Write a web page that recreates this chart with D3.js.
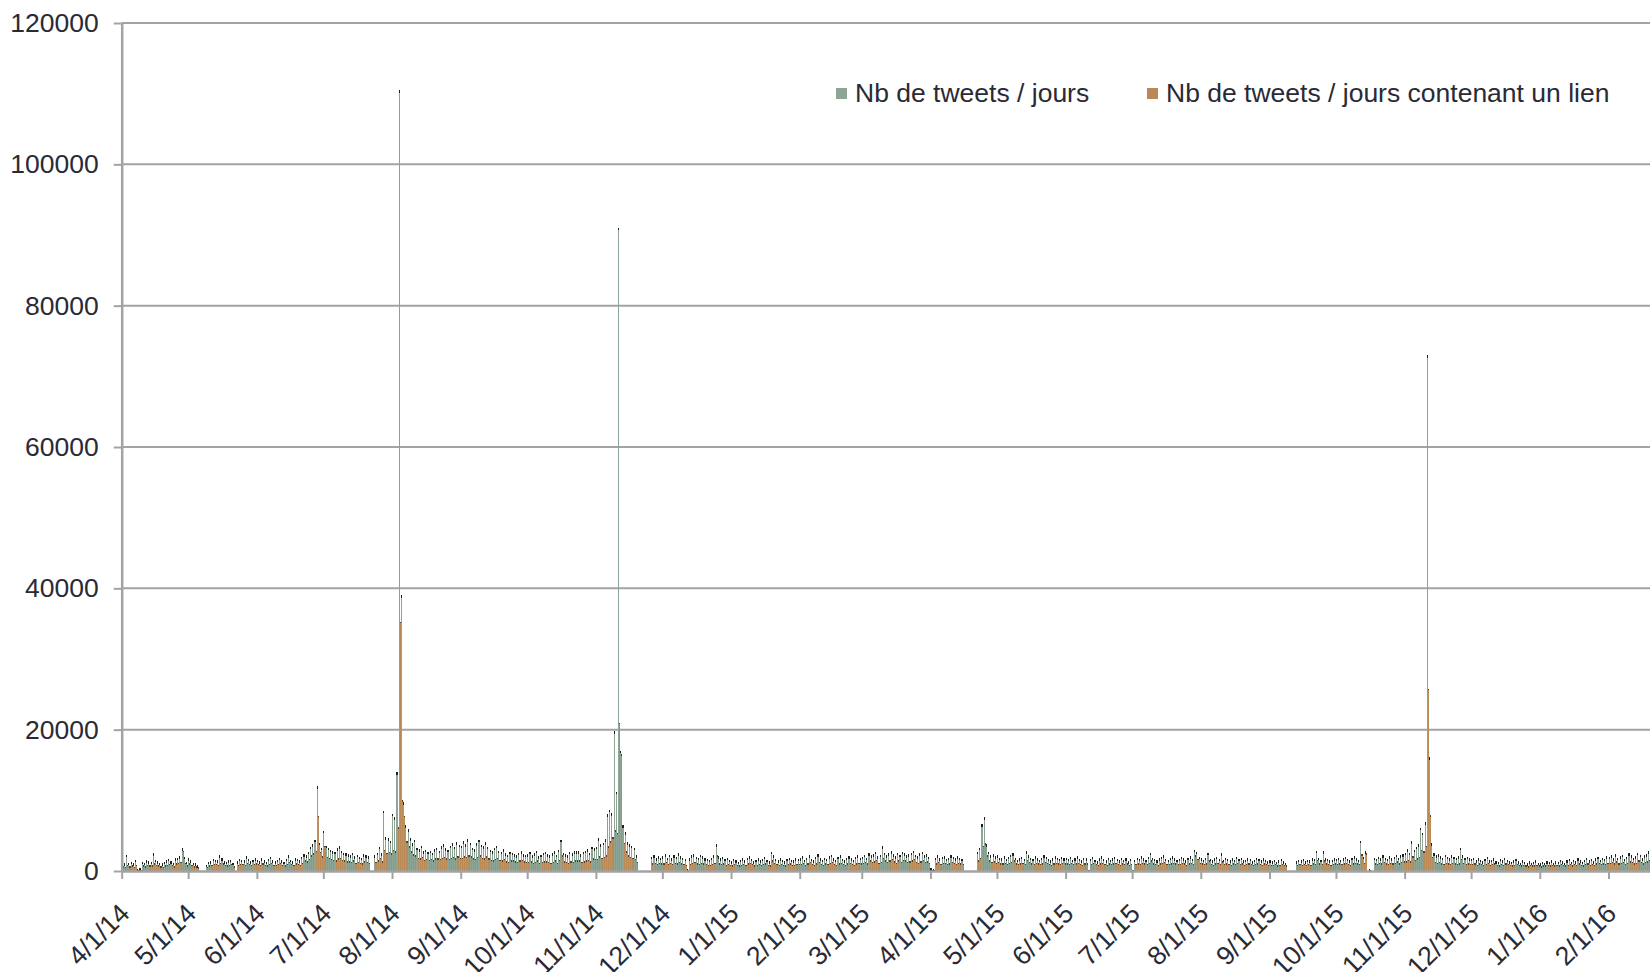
<!DOCTYPE html>
<html>
<head>
<meta charset="utf-8">
<script src="https://cdn.jsdelivr.net/npm/d3@7"></script>
<style>
  body { margin: 0; background: #fff; }
  svg { display: block; font-family: "Liberation Sans", Arial, sans-serif; }
</style>
</head>
<body>
<svg id="chart"></svg>
<script>
// daily counts, in hundreds of tweets, one line per month. null = no data that day
const startDate = new Date(2014, 3, 1);

const total = [
  /* avr 14 */ 12,11,23,12,13,11,16,3,4,13, 12,15,14,13,25,16,14,12,11,13, 15,17,14,12,18,19,21,32,20,13,
  /* mai 14 */ 18,15,12,11,8,null,null,null,9,13, 14,17,16,15,22,18,14,13,15,16, 12,null,14,17,16,15,21,17,14,16, 18,
  /* jun 14 */ 16,14,18,15,13,17,20,15,14,16, 19,15,13,17,22,16,14,18,17,15, 20,24,22,27,34,38,44,120,40,33,
  /* jul 14 */ 57,36,33,30,28,27,32,35,29,26, 25,24,22,26,21,23,20,19,24,22, 21,null,null,22,26,34,25,85,48,46, 43,
  /* aou 14 */ 81,76,140,1105,390,97,65,59,46,39, 44,33,31,36,28,30,27,29,26,31, 33,29,35,38,32,30,36,39,34,41, 37,
  /* sep 14 */ 36,42,38,45,40,33,31,39,44,37, 35,41,34,30,28,33,36,29,27,31, 25,23,27,26,24,22,26,28,24,23,
  /* oct 14 */ 24,27,22,25,29,21,23,26,27,24, 22,25,28,23,30,44,26,24,22,27, 25,28,28,28,24,27,29,31,26,34, 32,
  /* nov 14 */ 34,46,38,40,45,80,87,82,198,112, 910,170,65,55,41,38,36,33,22,null, null,null,null,null,null,20,22,18,21,19,
  /* dec 14 */ 21,24,19,23,18,22,20,25,21,19, 17,3,18,22,24,20,19,23,21,18, 17,16,19,22,38,21,18,20,17,19, 16,
  /* jan 15 */ 14,17,15,13,16,18,15,19,21,17, 14,16,18,15,17,20,16,14,27,22, 17,15,18,16,14,17,19,16,15,18, 17,
  /* fev 15 */ 18,21,16,19,22,17,15,20,24,18, 16,19,17,21,23,18,16,20,22,17, 15,19,21,18,16,20,22,19,
  /* mar 15 */ 20,23,19,25,22,24,27,21,23,35, 26,22,25,28,24,21,26,23,27,25, 22,24,26,29,23,21,25,27,22,24, 20,
  /* avr 15 */ 4,3,19,22,18,20,21,17,19,22, 20,18,21,19,17,null,null,null,null,null, null,27,33,66,76,38,27,22,24,21,
  /* mai 15 */ 22,19,18,21,17,20,23,25,19,16, 18,20,17,28,22,19,17,21,18,16, 19,22,20,17,15,18,21,19,17,20, 18,
  /* jun 15 */ 19,17,20,16,18,21,17,15,19,18, 2,17,20,16,14,18,21,17,15,19, 16,18,20,17,15,19,16,18,14,17,
  /* jul 15 */ 2,16,19,17,21,18,16,20,26,19, 17,15,18,20,22,17,16,19,21,18, 16,17,20,18,15,19,21,17,30,27, 20,
  /* aou 15 */ 18,16,19,26,17,15,18,20,17,25, 16,19,17,15,18,16,20,17,19,15, 16,18,17,14,16,19,17,15,18,16, 14,
  /* sep 15 */ 15,14,16,13,15,17,14,12,null,null, null,null,14,16,15,17,14,16,15,18, 17,29,19,16,28,18,17,15,16,18,
  /* oct 15 */ 17,19,16,18,20,17,15,19,21,18, 16,43,20,28,null,3,null,19,17,20, 18,22,19,17,21,18,20,23,19,22, 24,
  /* nov 15 */ 26,31,26,42,30,34,38,61,54,69, 730,161,39,25,22,24,21,19,23,20, 18,22,20,19,21,33,22,19,20,18,
  /* dec 15 */ 17,19,15,18,16,14,17,20,15,16, 18,14,13,17,15,19,16,14,13,15, 17,14,12,15,13,11,14,12,13,15, 12,
  /* jan 16 */ 11,13,12,14,13,15,12,14,13,16, 14,12,15,17,13,16,14,18,15,13, 16,19,15,17,14,18,20,16,19,17, 21,
  /* fev 16 */ 20,22,18,24,19,21,23,17,20,25, 22,19,21,26,23,18,22,24,28,32
];

const withLink = [
  /* avr 14 */ 7,6,9,7,8,6,9,2,2,8, 7,9,8,8,11,9,8,7,6,8, 9,10,9,7,11,12,13,29,12,8,
  /* mai 14 */ 11,9,7,7,5,null,null,null,6,8, 9,10,10,9,12,11,9,8,9,10, 7,null,9,10,10,9,12,10,9,10, 11,
  /* jun 14 */ 10,9,11,9,8,10,12,9,9,10, 12,9,8,10,13,10,9,11,10,9, 12,15,14,17,22,25,29,78,27,21,
  /* jul 14 */ 36,20,19,17,16,15,18,19,16,15, 14,14,13,15,12,13,12,11,14,13, 12,null,null,13,15,19,14,30,26,27, 25,
  /* aou 14 */ 30,28,62,353,100,78,42,35,28,24, 22,19,18,20,16,17,16,17,15,18, 18,17,19,20,18,17,19,20,18,21, 19,
  /* sep 14 */ 19,21,20,22,21,18,17,20,22,19, 18,21,18,16,15,17,19,16,15,17, 14,13,15,15,14,13,15,16,14,13,
  /* oct 14 */ 13,14,12,13,15,12,13,14,14,13, 12,13,15,12,16,22,14,13,12,14, 13,15,15,15,13,14,15,16,14,18, 17,
  /* nov 14 */ 17,21,19,20,22,35,42,48,58,54, 210,165,40,28,22,20,19,17,13,null, null,null,null,null,null,11,12,10,12,11,
  /* dec 14 */ 11,13,10,12,10,12,11,13,11,10, 9,2,10,12,13,11,10,12,11,10, 9,9,10,12,22,11,10,11,9,10, 9,
  /* jan 15 */ 8,10,9,8,9,10,9,11,12,10, 8,9,10,9,10,11,9,8,15,12, 10,9,10,9,8,10,11,9,9,10, 10,
  /* fev 15 */ 10,12,9,11,13,10,9,11,13,10, 9,11,10,12,13,10,9,11,12,10, 9,11,12,10,9,11,12,11,
  /* mar 15 */ 12,13,11,15,13,14,16,12,13,19, 15,13,15,17,14,12,15,13,16,15, 13,14,15,17,13,12,14,16,13,14, 12,
  /* avr 15 */ 2,2,11,13,10,12,12,10,11,13, 12,10,12,11,10,null,null,null,null,null, null,15,19,36,39,22,15,13,14,12,
  /* mai 15 */ 13,11,11,12,10,12,13,15,11,10, 11,12,10,16,13,11,10,12,11,10, 11,13,12,10,9,11,12,11,10,12, 11,
  /* jun 15 */ 11,10,12,10,11,12,10,9,11,11, 1,10,12,10,9,11,12,10,9,11, 10,11,12,10,9,11,10,11,9,10,
  /* jul 15 */ 1,10,11,10,12,11,10,12,15,11, 10,9,11,12,13,10,10,11,12,11, 10,10,12,11,9,11,12,10,22,17, 12,
  /* aou 15 */ 11,10,11,15,10,9,11,12,10,14, 10,11,10,9,11,10,12,10,11,9, 10,11,10,9,10,11,10,9,11,10, 9,
  /* sep 15 */ 9,9,10,8,9,10,9,8,null,null, null,null,9,10,9,10,9,10,9,11, 10,16,11,10,15,11,10,9,10,11,
  /* oct 15 */ 10,11,10,11,12,10,9,11,12,11, 10,24,12,25,null,2,null,11,10,12, 11,13,11,10,12,11,12,14,11,13, 14,
  /* nov 15 */ 14,16,14,21,16,18,20,30,28,36, 258,79,20,13,12,13,11,10,12,11, 10,12,11,10,11,17,12,10,11,10,
  /* dec 15 */ 10,11,9,11,10,9,10,12,9,10, 11,9,8,10,9,11,10,9,8,9, 10,9,8,9,8,7,9,8,8,9, 8,
  /* jan 16 */ 7,8,8,9,8,9,8,9,8,10, 9,8,9,10,8,10,9,11,9,8, 10,11,9,10,9,11,12,10,11,10, 12,
  /* fev 16 */ 12,13,11,14,11,12,13,10,12,14, 13,11,12,15,13,11,13,14,16,18
];

const yTicks = [0, 20000, 40000, 60000, 80000, 100000, 120000];
const seriesNames = ["Nb de tweets / jours", "Nb de tweets / jours contenant un lien"];
const seriesColors = ["#8ea596", "#b98a55"];

let layout = {"width": 1650, "height": 972,
              "left": 121.7, "top": 23, "bottom": 871,
              "dayWidth": 2.2158};

let data = total.map((t, i) => ({
  date: d3.timeDay.offset(startDate, i),
  total: t == null ? null : t * 100,
  link: withLink[i] == null ? null : withLink[i] * 100
}));

let svg = d3.select("#chart")
  .attr("width", layout.width)
  .attr("height", layout.height);

let nDays = data.length;
let xScale = d3.scaleTime()
  .domain([startDate, d3.timeDay.offset(startDate, nDays)])
  .range([layout.left, layout.left + nDays * layout.dayWidth]);

let yScale = d3.scaleLinear()
  .domain([0, 120000])
  .range([layout.bottom, layout.top]);

// gridlines
svg.append("g").attr("id", "grid")
  .selectAll("line")
  .data(yTicks.filter(d => d > 0))
  .join("line")
  .attr("x1", layout.left)
  .attr("x2", layout.width)
  .attr("y1", d => yScale(d))
  .attr("y2", d => yScale(d))
  .attr("stroke", "#a3a3a3")
  .attr("stroke-width", 2);

let half = layout.dayWidth / 2;
let days = data.filter(d => d.total != null);

let marks = svg.append("g").attr("id", "mark")
  .attr("shape-rendering", "crispEdges");

marks.selectAll(".totalBar")
  .data(days)
  .join("rect")
  .attr("class", "totalBar")
  .attr("x", d => xScale(d.date))
  .attr("y", d => yScale(d.total))
  .attr("width", half)
  .attr("height", d => yScale(0) - yScale(d.total))
  .attr("fill", seriesColors[0]);

marks.selectAll(".linkBar")
  .data(days)
  .join("rect")
  .attr("class", "linkBar")
  .attr("x", d => xScale(d.date) + half)
  .attr("y", d => yScale(d.link))
  .attr("width", half)
  .attr("height", d => yScale(0) - yScale(d.link))
  .attr("fill", seriesColors[1]);

// dark tops of the bars
marks.selectAll(".totalCap")
  .data(days)
  .join("rect")
  .attr("class", "totalCap")
  .attr("x", d => xScale(d.date))
  .attr("y", d => yScale(d.total))
  .attr("width", half)
  .attr("height", 2.5)
  .attr("fill", "#1e1e1e");

marks.selectAll(".linkCap")
  .data(days)
  .join("rect")
  .attr("class", "linkCap")
  .attr("x", d => xScale(d.date) + half)
  .attr("y", d => yScale(d.link))
  .attr("width", half)
  .attr("height", 1.5)
  .attr("fill", "#5a3b1c");

// axes
let xAxis = svg.append("g")
  .attr("id", "xAxis")
  .attr("transform", `translate(0, ${layout.bottom})`)
  .call(d3.axisBottom(xScale)
    .ticks(d3.timeMonth.every(1))
    .tickFormat(d3.timeFormat("%-m/%-d/%y"))
    .tickSize(8)
    .tickSizeOuter(0));

xAxis.select(".domain").attr("stroke", "#a3a3a3").attr("stroke-width", 2.5);
xAxis.selectAll(".tick line").attr("stroke", "#a3a3a3").attr("stroke-width", 2);
xAxis.selectAll(".tick text")
  .attr("fill", "#2a2a35")
  .attr("font-size", "26.5px")
  .attr("font-family", "Liberation Sans, Arial, sans-serif")
  .attr("text-anchor", "end")
  .attr("x", 0).attr("y", 0).attr("dy", 0)
  .attr("transform", "translate(9, 44) rotate(-45)");

let yAxis = svg.append("g")
  .attr("id", "yAxis")
  .attr("transform", `translate(${layout.left}, 0)`)
  .call(d3.axisLeft(yScale)
    .tickValues(yTicks)
    .tickFormat(d3.format("d"))
    .tickSize(8)
    .tickPadding(15)
    .tickSizeOuter(0));

yAxis.select(".domain").attr("stroke", "#a3a3a3").attr("stroke-width", 2.5);
yAxis.selectAll(".tick line").attr("stroke", "#a3a3a3").attr("stroke-width", 2);
yAxis.selectAll(".tick text")
  .attr("fill", "#2a2a35")
  .attr("font-size", "26.5px")
  .attr("font-family", "Liberation Sans, Arial, sans-serif");

// legend
let legendX = [855, 1166];
let legend = svg.append("g").attr("id", "legend");

legend.selectAll(".legendBox")
  .data(seriesNames)
  .join("rect")
  .attr("class", "legendBox")
  .attr("x", (d, i) => legendX[i] - 19)
  .attr("y", 88)
  .attr("width", 11)
  .attr("height", 11)
  .attr("fill", (d, i) => seriesColors[i]);

legend.selectAll(".legendText")
  .data(seriesNames)
  .join("text")
  .attr("class", "legendText")
  .attr("x", (d, i) => legendX[i])
  .attr("y", 102)
  .attr("fill", "#2a2a35")
  .attr("font-size", "26.5px")
  .text(d => d);
</script>
</body>
</html>
